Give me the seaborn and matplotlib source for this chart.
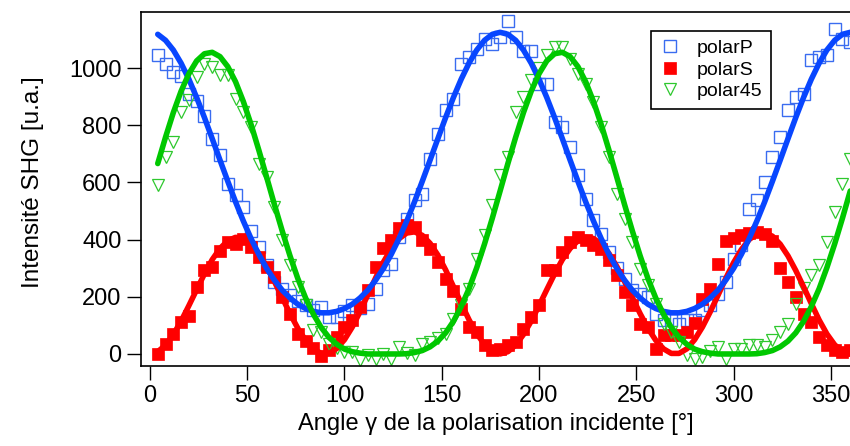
import numpy as np
import pandas as pd
import matplotlib
matplotlib.use("Agg")
import matplotlib.pyplot as plt
import seaborn as sns

# ---------------- data ----------------
angle = np.arange(4, 361, 4)  # incident polarisation angle gamma (deg)

polarP = [1046, 1015, 986, 972, 910, 885, 834, 753, 697, 595,
          555, 514, 430, 374, 310, 252, 228, 205, 185, 171,
          154, 164, 129, 129, 150, 171, 160, 176, 228, 294,
          316, 409, 473, 538, 560, 683, 770, 852, 893, 1015,
          1038, 1068, 1103, 1085, 1110, 1163, 1108, 1058, 1060, 945,
          945, 811, 794, 724, 625, 543, 467, 421, 357, 300,
          263, 223, 210, 199, 141, 118, 118, 106, 118, 118,
          153, 170, 211, 252, 333, 380, 508, 540, 601, 689,
          759, 852, 899, 910, 1027, 1038, 1044, 1138, 1103, 1091]

polarS = [1, 36, 71, 112, 133, 234, 292, 304, 359, 392,
          386, 403, 375, 340, 305, 270, 200, 140, 70, 45,
          22, -8, 15, 60, 95, 120, 165, 225, 305, 370,
          400, 440, 450, 445, 400, 368, 322, 263, 222, 158,
          94, 77, 30, 13, 19, 30, 41, 88, 129, 170,
          292, 292, 357, 392, 410, 400, 380, 368, 327, 275,
          217, 170, 106, 94, 19, 65, 65, 65, 77, 110,
          193, 228, 316, 395, 405, 415, 422, 428, 418, 395,
          300, 250, 200, 141, 112, 59, 30, 15, 7, 13]

polar45 = [590, 689, 741, 846, 887, 968, 1015, 1003, 974, 974,
           893, 846, 794, 665, 619, 514, 397, 310, 234, 170,
           83, 77, 36, 20, 7, 7, -22, -5, -16, 1,
           -16, 24, 5, -5, 36, 42, 55, 71, 124, 170,
           228, 333, 415, 520, 625, 689, 846, 900, 957, 1000,
           1044, 1073, 1073, 1033, 980, 945, 881, 794, 689, 560,
           473, 392, 298, 240, 176, 106, 77, 42, -5, -16,
           -10, 10, 24, -16, 19, 19, 30, 30, 24, 48,
           77, 106, 176, 230, 275, 310, 392, 497, 595, 683]

# fitted curves at the same angles
fitP = [1118, 1097, 1063, 1017, 961, 897, 827, 753, 678, 604, 532,
        465, 403, 348, 299, 258, 223, 196, 174, 159, 149, 144,
        144, 149, 159, 174, 196, 223, 258, 299, 348, 403, 465,
        532, 604, 678, 753, 827, 897, 961, 1017, 1063, 1097, 1118,
        1125,
        1118, 1097, 1063, 1017, 961, 897, 827, 753, 678, 604, 532,
        465, 403, 348, 299, 258, 223, 196, 174, 159, 149, 144,
        144, 149, 159, 174, 196, 223, 258, 299, 348, 403, 465,
        532, 604, 678, 753, 827, 897, 961, 1017, 1063, 1097, 1118,
        1125]

fitS = [8, 31, 68, 115, 169, 225, 280, 330, 369, 396, 408,
        404, 384, 351, 306, 253, 197, 141, 90, 48, 18, 2,
        2, 19, 50, 94, 148, 207, 266, 321, 368, 403, 423,
        427, 415, 387, 346, 294, 236, 177, 120, 71, 33, 8,
        0,
        8, 31, 68, 115, 169, 225, 280, 330, 369, 396, 408,
        404, 384, 351, 306, 253, 197, 141, 90, 48, 18, 2,
        2, 18, 50, 94, 147, 205, 264, 319, 365, 400, 420,
        424, 412, 384, 343, 292, 235, 176, 119, 70, 32, 8,
        0]

fit45 = [666, 758, 844, 919, 980, 1025, 1050, 1055, 1040, 1005, 952,
         883, 802, 712, 618, 522, 430, 343, 264, 196, 139, 93,
         58, 34, 17, 8, 3, 0, 0, 0, 0, 0, 1,
         5, 12, 25, 45, 74, 114, 166, 228, 302, 385, 475,
         570,
         666, 758, 844, 919, 980, 1025, 1050, 1055, 1040, 1005, 952,
         883, 802, 712, 618, 522, 430, 343, 264, 196, 139, 93,
         58, 34, 17, 8, 3, 0, 0, 0, 0, 0, 1,
         5, 12, 25, 45, 74, 114, 166, 228, 302, 385, 475,
         570]

series_labels = ["polarP", "polarS", "polar45"]
xticks = [0, 50, 100, 150, 200, 250, 300, 350]
yticks = [0, 200, 400, 600, 800, 1000]

# ---------------- style ----------------
sns.set_theme(style="ticks")
plt.rcParams["font.family"] = ["Liberation Sans", "DejaVu Sans"]
plt.rcParams["axes.edgecolor"] = "black"
plt.rcParams["text.color"] = "black"
plt.rcParams["axes.labelcolor"] = "black"

fig = plt.figure(figsize=(8.5, 4.46), dpi=100)
ax = fig.add_axes([0.1659, 0.1794, 0.8353, 0.7937])
ax.set_facecolor("white")

df = pd.DataFrame({"angle": angle, "polarP": polarP, "polarS": polarS,
                   "polar45": polar45, "fitP": fitP, "fitS": fitS,
                   "fit45": fit45})

c_blue_m, c_blue_l = "#3a6cf0", "#0846ff"
c_red = "#ff0000"
c_green_m, c_green_l = "#2ec82e", "#00c800"

# markers
sns.lineplot(data=df, x="angle", y="polarP", ax=ax, errorbar=None,
             marker="s", linestyle="none", markersize=8.0,
             markerfacecolor="none", markeredgecolor=c_blue_m,
             markeredgewidth=1.0, color=c_blue_m, zorder=2)
sns.lineplot(data=df, x="angle", y="polarS", ax=ax, errorbar=None,
             marker="s", linestyle="none", markersize=8.4,
             markerfacecolor=c_red, markeredgecolor=c_red,
             markeredgewidth=0.5, color=c_red, zorder=2)
sns.lineplot(data=df, x="angle", y="polar45", ax=ax, errorbar=None,
             marker="v", linestyle="none", markersize=9.0,
             markerfacecolor="none", markeredgecolor=c_green_m,
             markeredgewidth=0.9, color=c_green_m, zorder=2)
marker_lines = list(ax.get_lines())

# fitted curves
sns.lineplot(data=df, x="angle", y="fitS", ax=ax, errorbar=None,
             color=c_red, linewidth=4.0, zorder=3)
sns.lineplot(data=df, x="angle", y="fitP", ax=ax, errorbar=None,
             color=c_blue_l, linewidth=4.0, zorder=4)
sns.lineplot(data=df, x="angle", y="fit45", ax=ax, errorbar=None,
             color=c_green_l, linewidth=4.0, zorder=5)

# axes
ax.set_xlim(-4.6, 360.4)
ax.set_ylim(-42, 1196)
ax.set_xticks(xticks)
ax.set_yticks(yticks)
ax.minorticks_off()
ax.tick_params(axis="both", direction="out", length=10, width=1.0,
               colors="black", labelsize=17, pad=4)
for sp in ax.spines.values():
    sp.set_visible(True)
    sp.set_color("black")
    sp.set_linewidth(1.2)

ax.set_xlabel("Angle γ de la polarisation incidente [°]", fontsize=17, labelpad=4)
ax.set_ylabel("Intensité SHG [u.a.]", fontsize=17.5)
ax.yaxis.set_label_coords(-0.137, 0.52)

leg = ax.legend(marker_lines, series_labels, loc="upper right",
                bbox_to_anchor=(0.888, 0.947), borderaxespad=0,
                frameon=True, fancybox=False, framealpha=1,
                edgecolor="black", fontsize=14, handlelength=1.0,
                handletextpad=0.9, labelspacing=0.2, borderpad=0.45)
leg.get_frame().set_linewidth(1.2)
leg.set_zorder(10)

fig.savefig("out.png", dpi=100)
